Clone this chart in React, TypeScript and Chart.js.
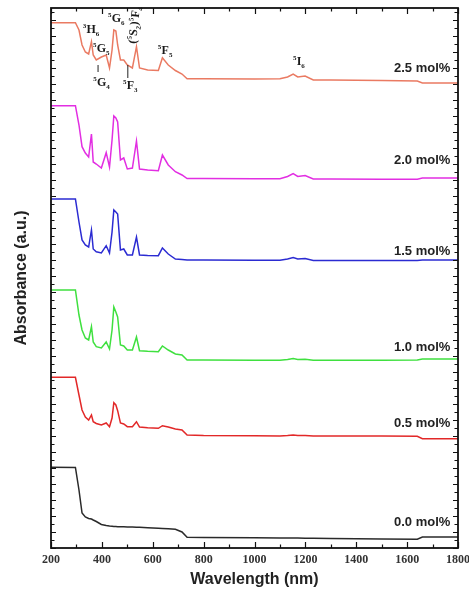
import React, { useEffect, useRef } from 'react';
import { Chart, registerables } from 'chart.js';

Chart.register(...registerables);

// Wavelength grid (nm)
const wavelengths = [200, 296, 310, 322, 335, 348, 359, 366, 378, 398, 417, 430, 440, 447, 455, 462, 473, 486, 500, 520, 536, 548, 580, 622, 638, 661, 689, 715, 735, 800, 1000, 1100, 1130, 1152, 1170, 1199, 1231, 1300, 1500, 1640, 1660, 1800];

// Absorbance (a.u., vertically stacked as in the figure)
const abs25 = [52.53, 52.53, 51.8, 50.3, 49.6, 49.4, 50.63, 49.3, 48.8, 49.1, 49.3, 48.0, 49.8, 51.8, 51.7, 50.3, 48.8, 48.8, 48.3, 48.0, 50.13, 48.0, 47.8, 47.75, 49.03, 48.3, 47.75, 47.4, 46.93, 46.93, 46.91, 46.92, 47.1, 47.4, 47.1, 47.2, 46.8, 46.8, 46.75, 46.7, 46.5, 46.5];
const abs20 = [44.23, 44.23, 42.3, 40.13, 39.5, 39.1, 41.4, 38.6, 38.4, 38.0, 39.53, 38.1, 40.8, 43.2, 43.0, 42.6, 38.8, 39.0, 37.9, 38.0, 40.7, 37.9, 37.8, 37.73, 39.3, 38.3, 37.63, 37.3, 36.95, 36.95, 36.93, 36.93, 37.15, 37.45, 37.15, 37.25, 36.9, 36.9, 36.87, 36.87, 37.0, 37.0];
const abs15 = [34.9, 34.9, 32.6, 30.8, 30.3, 30.1, 31.8, 29.9, 29.63, 29.5, 30.23, 29.5, 31.6, 33.8, 33.6, 33.4, 29.8, 29.9, 29.3, 29.3, 31.1, 29.3, 29.25, 29.23, 30.0, 29.4, 28.9, 28.85, 28.8, 28.8, 28.77, 28.77, 28.9, 29.05, 28.9, 28.95, 28.75, 28.75, 28.75, 28.75, 28.8, 28.8];
const abs10 = [25.8, 25.8, 23.3, 21.8, 21.0, 20.8, 22.13, 20.6, 20.13, 20.0, 20.6, 19.9, 21.8, 24.1, 23.6, 23.1, 20.3, 20.2, 19.8, 19.8, 21.1, 19.73, 19.67, 19.63, 20.2, 19.8, 19.4, 19.3, 18.8, 18.8, 18.78, 18.78, 18.85, 18.95, 18.85, 18.87, 18.77, 18.77, 18.77, 18.8, 18.9, 18.9];
const abs05 = [17.07, 17.07, 15.3, 13.8, 13.1, 12.8, 13.3, 12.63, 12.45, 12.3, 12.5, 12.13, 13.0, 14.53, 14.3, 13.73, 12.5, 12.4, 12.13, 12.13, 12.63, 12.1, 12.02, 11.97, 12.23, 12.1, 11.9, 11.8, 11.3, 11.25, 11.22, 11.2, 11.25, 11.3, 11.25, 11.25, 11.2, 11.2, 11.2, 11.17, 10.93, 10.93];
const abs00 = [8.07, 8.05, 5.8, 3.5, 3.1, 2.95, 2.9, 2.8, 2.65, 2.35, 2.25, 2.2, 2.17, 2.15, 2.15, 2.13, 2.13, 2.12, 2.11, 2.1, 2.08, 2.07, 2.02, 1.97, 1.95, 1.92, 1.87, 1.6, 1.07, 1.05, 1.02, 1.0, 1.0, 1.0, 0.99, 0.98, 0.97, 0.95, 0.9, 0.87, 1.1, 1.1];

const seriesNames = ['2.5 mol%', '2.0 mol%', '1.5 mol%', '1.0 mol%', '0.5 mol%', '0.0 mol%'];
const seriesValues = [abs25, abs20, abs15, abs10, abs05, abs00];
const seriesColors = ['#ea7a62', '#e22ee2', '#2b2bd2', '#3fe03f', '#e22828', '#2a2a2a'];

// Concentration labels (anchored at right end, data coordinates)
const nameLabelX = 1770;
const nameLabelY = [48.0, 38.8, 29.7, 20.1, 12.5, 2.6];

// Transition term labels (^ = superscript, _ = subscript)
const termLabels = ['^3H_6', '^5G_6', '(^5S_2)^5F_4', '^5G_5', '^5G_4', '^5F_3', '^5F_5', '^5I_6'];
const termX = [358, 457, 526, 398, 399, 512, 649, 1175];
const termY = [51.9, 53.0, 52.3, 50.0, 46.6, 46.3, 49.8, 48.7];
const termAngle = [0, 0, -84, 0, 0, 0, 0, 0];
const pointerX = [385, 502];
const pointerTop = [48.3, 48.3];
const pointerBottom = [47.6, 47.0];

const X_MIN = 200;
const X_MAX = 1800;
const Y_MIN = 0;
const Y_MAX = 54;

type Piece = { t: string; k: 'n' | 'sup' | 'sub' };

function parseRich(s: string): Piece[] {
  const out: Piece[] = [];
  for (let i = 0; i < s.length; i++) {
    const c = s[i];
    if ((c === '^' || c === '_') && i + 1 < s.length) {
      out.push({ t: s[i + 1], k: c === '^' ? 'sup' : 'sub' });
      i++;
    } else {
      out.push({ t: c, k: 'n' });
    }
  }
  return out;
}

function drawRich(ctx: CanvasRenderingContext2D, s: string, cx: number, cy: number, angle: number) {
  const pieces = parseRich(s);
  const mainFont = 'bold 12px "Liberation Serif", "DejaVu Serif", serif';
  const smallFont = 'bold 7px "Liberation Serif", "DejaVu Serif", serif';
  let total = 0;
  const widths: number[] = [];
  for (const p of pieces) {
    ctx.font = p.k === 'n' ? mainFont : smallFont;
    const w = ctx.measureText(p.t).width + (p.k === 'n' ? 0 : 0.3);
    widths.push(w);
    total += w;
  }
  ctx.save();
  ctx.translate(cx, cy);
  ctx.rotate((angle * Math.PI) / 180);
  ctx.fillStyle = '#1a1a1a';
  ctx.textBaseline = 'alphabetic';
  ctx.textAlign = 'left';
  let x = -total / 2;
  const base = 4;
  pieces.forEach((p, i) => {
    ctx.font = p.k === 'n' ? mainFont : smallFont;
    const dy = p.k === 'sup' ? -5 : p.k === 'sub' ? 3 : 0;
    ctx.fillText(p.t, x, base + dy);
    x += widths[i];
  });
  ctx.restore();
}

const overlayPlugin = {
  id: 'overlay',
  afterDatasetsDraw(chart: any) {
    const { ctx, chartArea: a, scales } = chart;
    const xs = scales.x;
    const ys = scales.y;
    ctx.save();
    ctx.strokeStyle = '#111';
    ctx.lineWidth = 1.2;
    ctx.beginPath();
    for (let v = X_MIN; v <= X_MAX; v += 100) {
      const px = Math.round(xs.getPixelForValue(v)) + 0.5;
      const len = v % 200 === 0 ? 6 : 3.5;
      ctx.moveTo(px, a.bottom);
      ctx.lineTo(px, a.bottom - len);
      ctx.moveTo(px, a.top);
      ctx.lineTo(px, a.top + len);
    }
    let k = 0;
    for (let v = Y_MIN; v <= Y_MAX + 1e-6; v += 0.8) {
      const py = Math.round(ys.getPixelForValue(v)) + 0.5;
      const len = k % 2 === 0 ? 5 : 3.5;
      ctx.moveTo(a.left, py);
      ctx.lineTo(a.left + len, py);
      ctx.moveTo(a.right, py);
      ctx.lineTo(a.right - len, py);
      k++;
    }
    ctx.stroke();
    ctx.lineWidth = 1.8;
    ctx.strokeRect(a.left, a.top, a.right - a.left, a.bottom - a.top);

    // concentration labels
    ctx.fillStyle = '#222';
    ctx.font = 'bold 13px "Liberation Sans", Arial, sans-serif';
    ctx.textAlign = 'right';
    ctx.textBaseline = 'middle';
    seriesNames.forEach((name, i) => {
      ctx.fillText(name, xs.getPixelForValue(nameLabelX), ys.getPixelForValue(nameLabelY[i]));
    });

    // term labels
    termLabels.forEach((t, i) => {
      drawRich(ctx, t, xs.getPixelForValue(termX[i]), ys.getPixelForValue(termY[i]), termAngle[i]);
    });
    ctx.strokeStyle = '#222';
    ctx.lineWidth = 1;
    ctx.beginPath();
    pointerX.forEach((pxv, i) => {
      const px = xs.getPixelForValue(pxv);
      ctx.moveTo(px, ys.getPixelForValue(pointerTop[i]));
      ctx.lineTo(px, ys.getPixelForValue(pointerBottom[i]));
    });
    ctx.stroke();
    ctx.restore();
  },
};

export default function App() {
  const ref = useRef<HTMLCanvasElement | null>(null);
  useEffect(() => {
    if (!ref.current) return;
    const chart = new Chart(ref.current, {
      type: 'line',
      data: {
        datasets: seriesNames.map((name, i) => ({
          label: name,
          data: wavelengths.map((w, j) => ({ x: w, y: seriesValues[i][j] })),
          borderColor: seriesColors[i],
          borderWidth: 1.5,
          pointRadius: 0,
          fill: false,
          tension: 0,
        })),
      },
      options: {
        responsive: false,
        animation: false,
        devicePixelRatio: 1,
        layout: { padding: { top: 8, right: 11, left: 0, bottom: 0 } },
        plugins: { legend: { display: false }, tooltip: { enabled: false } },
        scales: {
          x: {
            type: 'linear',
            min: X_MIN,
            max: X_MAX,
            grid: { display: false, drawTicks: false },
            border: { display: false },
            ticks: {
              stepSize: 200,
              padding: 5,
              maxRotation: 0,
              autoSkip: false,
              color: '#333',
              callback: (v: any) => String(v),
              font: { family: '"Liberation Serif", "DejaVu Serif", serif', size: 12, weight: 'bold' },
            },
            title: {
              display: true,
              text: 'Wavelength (nm)',
              color: '#222',
              font: { family: '"Liberation Sans", Arial, sans-serif', size: 16, weight: 'bold' },
              padding: { top: 0, bottom: 3 },
            },
            afterFit: (s: any) => {
              s.height = 44;
              s.paddingLeft = 0;
              s.paddingRight = 0;
            },
          },
          y: {
            type: 'linear',
            min: Y_MIN,
            max: Y_MAX,
            grid: { display: false, drawTicks: false },
            border: { display: false },
            ticks: { display: false },
            title: {
              display: true,
              text: 'Absorbance (a.u.)',
              color: '#222',
              font: { family: '"Liberation Sans", Arial, sans-serif', size: 16, weight: 'bold' },
              padding: { top: 12, bottom: 0 },
            },
            afterFit: (s: any) => {
              s.width = 51;
              s.paddingTop = 0;
              s.paddingBottom = 0;
            },
          },
        },
      },
      plugins: [overlayPlugin],
    } as any);
    return () => chart.destroy();
  }, []);
  return (
    <div style={{ position: 'fixed', left: 0, top: 0, width: 469, height: 592, background: '#fff' }}>
      <canvas ref={ref} width={469} height={592} style={{ display: 'block' }} />
    </div>
  );
}
